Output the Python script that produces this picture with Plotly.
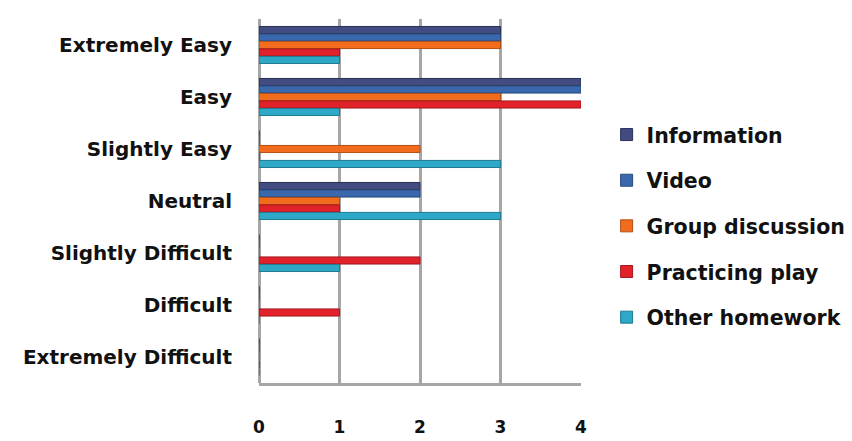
import plotly.graph_objects as go

categories = ["Extremely Easy", "Easy", "Slightly Easy", "Neutral",
              "Slightly Difficult", "Difficult", "Extremely Difficult"]
series_names = ["Information", "Video", "Group discussion", "Practicing play", "Other homework"]
information = [3, 4, 0, 2, 0, 0, 0]
video = [3, 4, 0, 2, 0, 0, 0]
group_discussion = [3, 3, 2, 1, 0, 0, 0]
practicing_play = [1, 4, 0, 1, 2, 1, 0]
other_homework = [1, 1, 3, 3, 1, 0, 0]
x_ticks = [0, 1, 2, 3, 4]

series_values = [information, video, group_discussion, practicing_play, other_homework]
colors = ["#434C80", "#3A68AC", "#F26C1E", "#E2222B", "#2EA8C7"]
edge = ["#2A3158", "#27497C", "#B24E13", "#A5161D", "#1F7890"]

fig = go.Figure()
for i, (name, vals) in enumerate(zip(series_names, series_values)):
    fig.add_trace(go.Bar(
        y=categories, x=vals, name=name, orientation="h",
        marker=dict(color=colors[i], line=dict(color=edge[i], width=1)),
        legendgroup=name,
    ))

font_family = "DejaVu Sans, sans-serif"
fig.update_layout(
    width=852, height=441,
    margin=dict(l=259, r=271, t=19, b=58, autoexpand=False),
    paper_bgcolor="white", plot_bgcolor="white",
    barmode="group", bargap=0.28, bargroupgap=0.05,
    font=dict(family=font_family, color="#111111"),
    xaxis=dict(range=[0, 4.0], tickvals=x_ticks, showgrid=True, automargin=False,
               gridcolor="#A6A6A6", gridwidth=2.5,
               zeroline=True, zerolinecolor="#A6A6A6", zerolinewidth=2.5,
               showline=True, linecolor="#A6A6A6", linewidth=2.5,
               ticklabelstandoff=27,
               tickfont=dict(size=17, family=font_family, weight="bold", color="#111")),
    yaxis=dict(categoryorder="array", categoryarray=categories, automargin=False,
               autorange="reversed", showgrid=False, zeroline=False,
               showline=False, ticks="", ticklabelstandoff=26,
               tickfont=dict(size=20, family=font_family, weight="bold", color="#111")),
    legend=dict(xref="container", yref="container", x=0.712, xanchor="left",
                y=0.487, yanchor="middle", maxheight=420,
                traceorder="grouped", tracegroupgap=16,
                font=dict(size=20.5, family=font_family, weight="bold", color="#111")),
)

fig.write_html("out.html", config={"displayModeBar": False},
               post_script="document.body.style.margin='0';document.body.style.overflow='hidden';")
